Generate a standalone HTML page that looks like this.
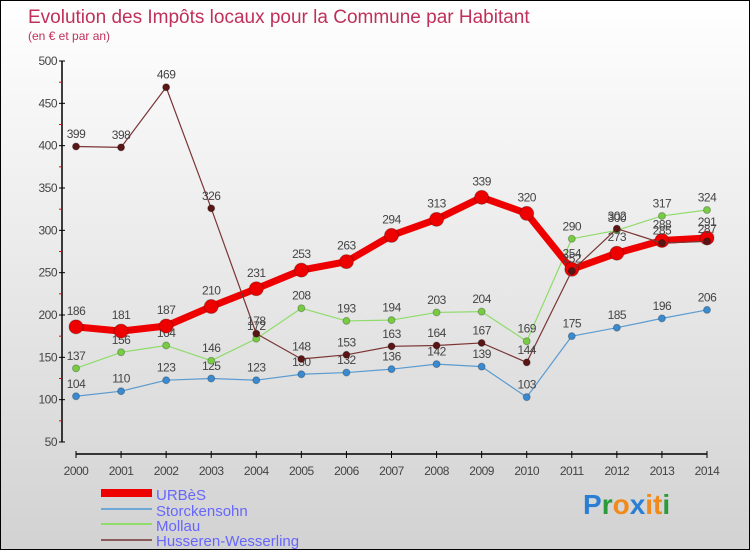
<!DOCTYPE html>
<html><head><meta charset="utf-8"><style>
body{margin:0;width:750px;height:550px;overflow:hidden;font-family:"Liberation Sans",sans-serif}
#wrap{position:relative;width:748px;height:548px;border:1px solid #000;background:linear-gradient(#ffffff,#d2d2d2)}
svg{position:absolute;left:0;top:0}
</style></head><body>
<div id="wrap">
<svg id="chart" width="750" height="550">
<text x="27" y="22" font-size="19" fill="#c0305a">Evolution des Impôts locaux pour la Commune par Habitant</text>
<text x="27" y="39" font-size="12" fill="#c0305a">(en € et par an)</text>
<g id="axes"></g><g id="series"></g>
<g>
<rect x="100" y="488" width="51" height="8" fill="#ee0000"/>
<text x="155" y="499" font-size="15" fill="#6666ff">URBèS</text>
<rect x="100" y="507" width="51" height="2" fill="#6fa8d6"/>
<text x="155" y="515" font-size="15" fill="#6666ff">Storckensohn</text>
<rect x="100" y="522" width="51" height="2" fill="#8fdc6a"/>
<text x="155" y="530" font-size="15" fill="#6666ff">Mollau</text>
<rect x="100" y="538" width="51" height="2" fill="#8b5a5a"/>
<text x="155" y="545" font-size="15" fill="#6666ff">Husseren-Wesserling</text>
</g>
<text x="582" y="513" font-size="28" font-weight="bold"><tspan fill="#2a7fd4">P</tspan><tspan fill="#2a9a3a">r</tspan><tspan fill="#f08a1c">o</tspan><tspan fill="#2a7fd4">x</tspan><tspan fill="#f08a1c">it</tspan><tspan fill="#2a9a3a">i</tspan></text>
</svg></div>
<script>
const years=[2000,2001,2002,2003,2004,2005,2006,2007,2008,2009,2010,2011,2012,2013,2014];
const yTicks=[50,100,150,200,250,300,350,400,450,500];
const urbes=[186,181,187,210,231,253,263,294,313,339,320,254,273,288,291];
const storck=[104,110,123,125,123,130,132,136,142,139,103,175,185,196,206];
const mollau=[137,156,164,146,172,208,193,194,203,204,169,290,300,317,324];
const husseren=[399,398,469,326,178,148,153,163,164,167,144,252,302,285,287];
const NS="http://www.w3.org/2000/svg";
const xs=i=>75+i*(706-75)/14;
const ys=v=>441-(v-50)*(381/450);
function mk(t,a,p){const e=document.createElementNS(NS,t);for(const k in a)e.setAttribute(k,a[k]);p.appendChild(e);return e;}
const ax=document.getElementById('axes');
let e=mk('line',{x1:61,y1:ys(500),x2:61,y2:ys(50),stroke:'#000','stroke-width':1.5},ax);


e=mk('line',{x1:75,y1:453,x2:706,y2:453,stroke:'#000','stroke-width':1.5},ax);


yTicks.forEach(v=>{
 mk('line',{x1:58,x2:64,y1:ys(v),y2:ys(v),stroke:'#000'},ax);
 if(v<500) mk('line',{x1:58,x2:61,y1:ys(v+25),y2:ys(v+25),stroke:'#e00'},ax);
 const t=mk('text',{x:56,y:ys(v)+4,'font-size':12,'text-anchor':'end',fill:'#444','letter-spacing':'-0.5'},ax);
 t.textContent=v;
 
 
});
years.forEach((y,i)=>{
 mk('line',{x1:xs(i),x2:xs(i),y1:450,y2:457,stroke:'#000'},ax);
 const t=mk('text',{x:xs(i),y:465,'font-size':12,'text-anchor':'middle',fill:'#444','dominant-baseline':'hanging','letter-spacing':'-0.5'},ax);
 t.textContent=y;
 
 
});
const sg=document.getElementById('series');
function series(data,color,dot,lw,r,name){
 const g=mk('g',{},sg);
 
 
 const pl=mk('polyline',{points:data.map((v,i)=>xs(i)+','+ys(v)).join(' '),fill:'none',stroke:color,'stroke-width':lw,'stroke-linejoin':'round'},g);
 
 
 data.forEach((v,i)=>{
  const c=mk('circle',{cx:xs(i),cy:ys(v),r:r,fill:dot,stroke:'rgba(0,0,0,0.25)'},g);
  
  
  const t=mk('text',{x:xs(i),y:ys(v)-r-5,'font-size':12,'text-anchor':'middle',fill:'#444','letter-spacing':'-0.5'},g);
  t.textContent=v;
  
  
 });
}
series(storck,'#5b9bd0','#3a8ad0',1.2,3.5,'storckensohn');
series(mollau,'#8fdc6a','#77cc44',1.2,3.5,'mollau');
series(urbes,'#ee0000','#ee0000',7,7,'urbes');
series(husseren,'#7a3535','#5a1515',1.2,3.5,'husseren');
</script>
</body></html>
